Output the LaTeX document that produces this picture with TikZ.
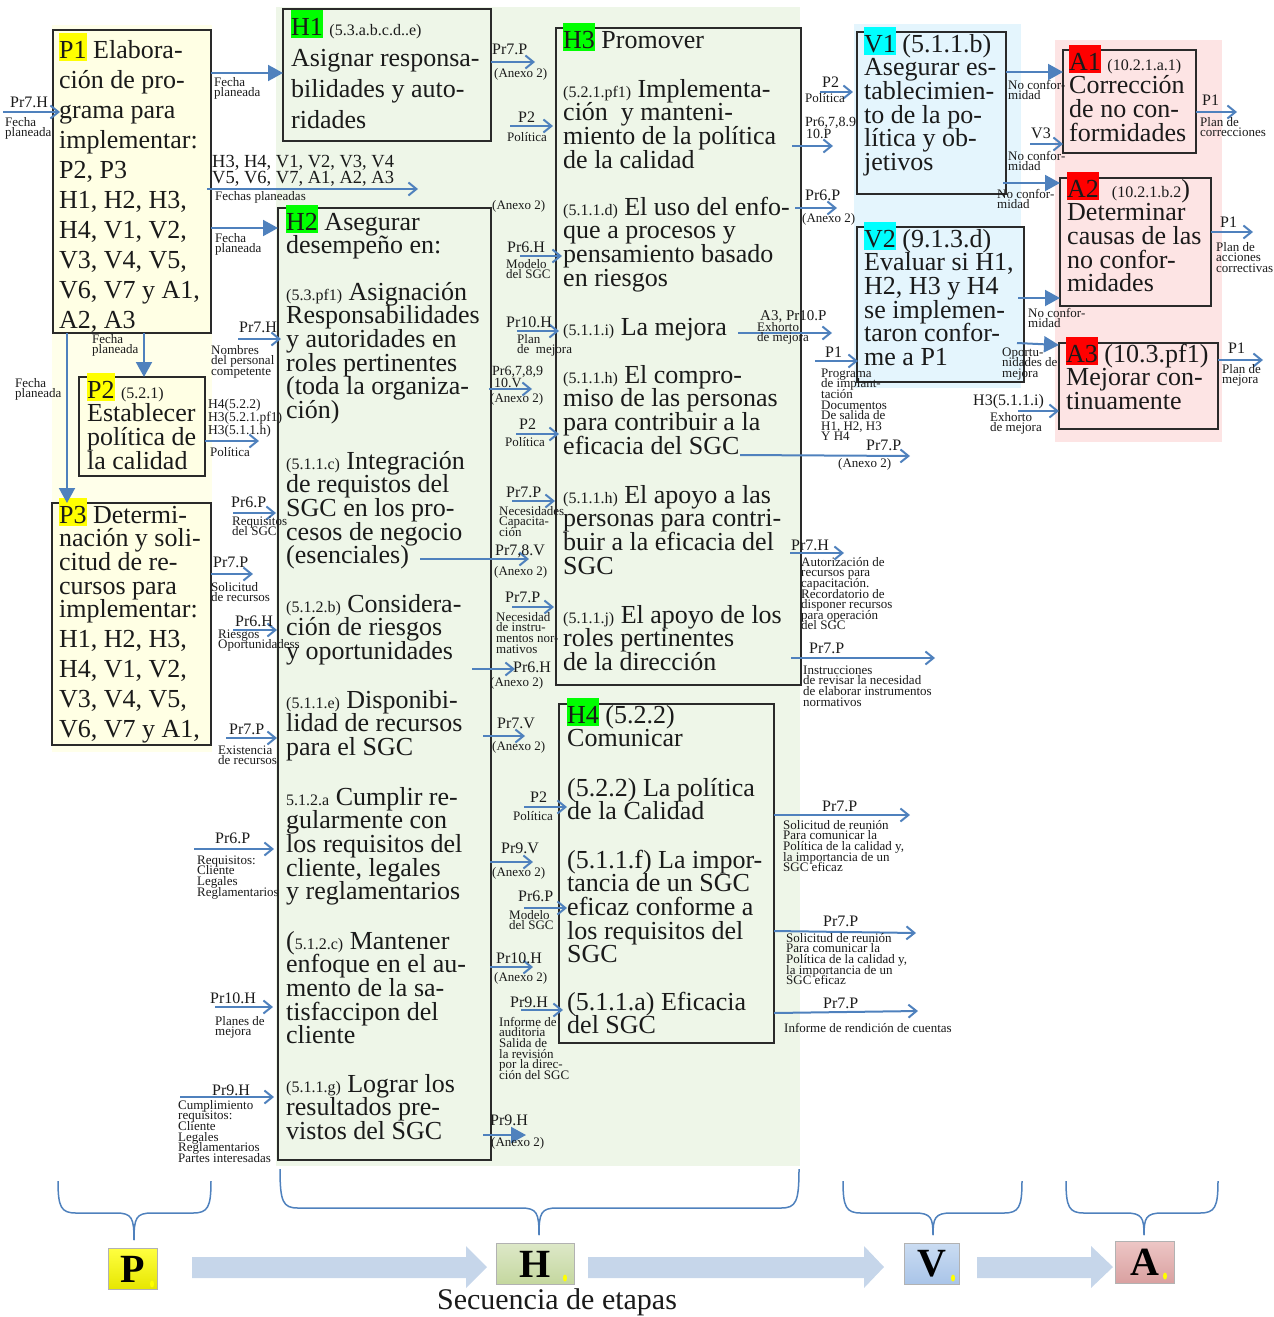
\documentclass[tikz,border=0pt]{standalone}
\usepackage{fontspec}
\setmainfont{Liberation Serif}
\usetikzlibrary{arrows.meta}
\definecolor{arrb}{HTML}{4F81BD}
\definecolor{bord}{HTML}{2A2A2A}
\definecolor{txt}{HTML}{1A1A1A}
\definecolor{pbg}{HTML}{FFFFEA}
\definecolor{pfill}{HTML}{FFFFE4}
\definecolor{hbg}{HTML}{EEF6E8}
\definecolor{vbg}{HTML}{E4F5FD}
\definecolor{abg}{HTML}{FDE4E4}
\definecolor{hlP}{HTML}{FFFF00}
\definecolor{hlH}{HTML}{00FF00}
\definecolor{hlV}{HTML}{00FFFF}
\definecolor{hlA}{HTML}{FF0000}
\definecolor{blk}{HTML}{C6D6EA}
\definecolor{sqPt}{HTML}{FFFF40}
\definecolor{sqPb}{HTML}{E6E600}
\definecolor{sqHt}{HTML}{DDE8C8}
\definecolor{sqHb}{HTML}{C4D79E}
\definecolor{sqVt}{HTML}{CADCF2}
\definecolor{sqVb}{HTML}{A9C4E8}
\definecolor{sqAt}{HTML}{EDC6C5}
\definecolor{sqAb}{HTML}{D9A0A0}
\lineskiplimit=-100pt
\lineskip=0pt
\newcommand\hlt[2]{{\fboxsep=0pt\colorbox{#1}{\rule[-3pt]{0pt}{28pt}#2}}}
\newcommand\bst{\rule{0pt}{26pt}}
\newcommand\rf[1]{{\fontsize{16}{16}\selectfont #1}}
\newcount\labno
\newcommand\slab[3]{\global\advance\labno by 1\relax\node[slabel] (s\the\labno) at (#1,#2-5) {\rule{0pt}{9pt}#3};}
\newcommand\clab[3]{\global\advance\labno by 1\relax\node[clabel] (c\the\labno) at (#1,#2) {#3};}
\newcommand\tlab[3]{\global\advance\labno by 1\relax\node[clabel,font=\fontsize{14}{12}\selectfont] (t\the\labno) at (#1,#2) {#3};}
\newcommand\oar[4]{\draw[oarr] (#1,#2) -- (#3,#4);}
\newcommand\far[4]{\draw[farr] (#1,#2) -- (#3,#4);}
\newcommand\drawbrc[6]{%
\draw[brc] (#1,#4) .. controls (#1,#5-6) and (#1+3,#5) .. (#1+18,#5) -- (#3-18,#5) .. controls (#3-2,#5) and (#3,#5+5) .. (#3,#6);
\draw[brc] (#3,#6) .. controls (#3,#5+5) and (#3+2,#5) .. (#3+18,#5) -- (#2-18,#5) .. controls (#2-3,#5) and (#2,#5-6) .. (#2,#4);}
\begin{document}
\begin{tikzpicture}[x=1pt,y=-1pt,
  every node/.style={text=txt},
  slabel/.style={anchor=north west, inner sep=0pt, align=left, font=\fontsize{13}{10.6}\selectfont},
  clabel/.style={anchor=base west, inner sep=0pt, font=\fontsize{16}{14}\selectfont},
  btxt/.style={anchor=north west, inner sep=0pt, align=left, font=\fontsize{26}{23.6}\selectfont},
  bx/.style={anchor=north west, inner sep=0pt, outer sep=0pt, line width=1.5pt, draw=bord},
  oarr/.style={draw=arrb, line width=2pt, -{Straight Barb[length=8pt,width=13pt]}},
  farr/.style={draw=arrb, line width=2pt, -{Triangle[length=15pt,width=16pt]}},
  brc/.style={draw=arrb, line width=1.5pt},
  sq/.style={anchor=north west, inner sep=0pt, draw=black!30, line width=0.8pt, font=\fontsize{40}{40}\selectfont\bfseries, text=black}
]
\useasboundingbox (0,0) rectangle (1274,1317);
% backgrounds
\fill[pbg] (52,25) rectangle (212,752);
\fill[hbg] (276,7) rectangle (800,1166);
\fill[vbg] (854,24) rectangle (1021,388);
\fill[abg] (1055,40) rectangle (1222,442);
% boxes
\node[bx, fill=pfill, minimum width=158, minimum height=303] (P1) at (53,30) {};
\node[bx, fill=pfill, minimum width=126, minimum height=99] (P2) at (79,377) {};
\node[bx, fill=pfill, minimum width=159, minimum height=242] (P3) at (52,503) {};
\node[bx, fill=hbg, minimum width=208, minimum height=132] (H1) at (283,9) {};
\node[bx, fill=hbg, minimum width=213, minimum height=952] (H2) at (278,208) {};
\node[bx, fill=hbg, minimum width=245, minimum height=657] (H3) at (556,28) {};
\node[bx, fill=hbg, minimum width=215, minimum height=339] (H4) at (559,704) {};
\node[bx, fill=vbg, minimum width=149, minimum height=162] (V1) at (857,32) {};
\node[bx, fill=vbg, minimum width=167, minimum height=155] (V2) at (857,227) {};
\node[bx, fill=abg, minimum width=133, minimum height=103] (A1) at (1063,50) {};
\node[bx, fill=abg, minimum width=151, minimum height=128] (A2) at (1060,178) {};
\node[bx, fill=abg, minimum width=159, minimum height=86] (A3) at (1059,343) {};
% box texts
\node[btxt, font=\fontsize{26}{30}\selectfont] (p1t) at (59,32) {\bst\hlt{hlP}{P1} Elabora-\\ción de pro-\\grama para\\implementar:\\P2, P3\\H1, H2, H3,\\H4, V1, V2,\\V3, V4, V5,\\V6, V7 y A1,\\A2, A3};
\node[btxt] (p2t) at (87,372) {\bst\hlt{hlP}{P2} \rf{(5.2.1)}\\Establecer\\política de\\la calidad};
\node[btxt] (p3t) at (59,497) {\bst\hlt{hlP}{P3} Determi-\\nación y soli-\\citud de re-\\cursos para\\implementar:\\[6.4pt]H1, H2, H3,\\[6.4pt]H4, V1, V2,\\[6.4pt]V3, V4, V5,\\[6.4pt]V6, V7 y A1,};
\node[btxt, font=\fontsize{26}{31}\selectfont] (h1t) at (291,9) {\bst\hlt{hlH}{H1} \rf{(5.3.a.b.c.d..e)}\\Asignar responsa-\\bilidades y auto-\\ridades};
\node[btxt] (h2a) at (286,204) {\bst\hlt{hlH}{H2} Asegurar\\desempeño en:};
\node[btxt] (h2b) at (286,274) {\bst\rf{(5.3.pf1)} Asignación\\Responsabilidades\\y autoridades en\\roles pertinentes\\(toda la organiza-\\ción)};
\node[btxt] (h2c) at (286,443) {\bst\rf{(5.1.1.c)} Integración\\de requistos del\\SGC en los pro-\\cesos de negocio\\(esenciales)};
\node[btxt] (h2d) at (286,586) {\bst\rf{(5.1.2.b)} Considera-\\ción de riesgos\\y oportunidades};
\node[btxt] (h2e) at (286,682) {\bst\rf{(5.1.1.e)} Disponibi-\\lidad de recursos\\para el SGC};
\node[btxt] (h2f) at (286,779) {\bst\rf{5.1.2.a} Cumplir re-\\gularmente con\\los requisitos del\\cliente, legales\\y reglamentarios};
\node[btxt] (h2g) at (286,923) {\bst(\rf{5.1.2.c)} Mantener\\enfoque en el au-\\mento de la sa-\\tisfaccipon del\\cliente};
\node[btxt] (h2h) at (286,1066) {\bst\rf{(5.1.1.g)} Lograr los\\resultados pre-\\vistos del SGC};
\node[btxt] (h3a) at (563,22) {\bst\hlt{hlH}{H3} Promover};
\node[btxt] (h3b) at (563,71) {\bst\rf{(5.2.1.pf1)} Implementa-\\ción\ \ y manteni-\\miento de la política\\de la calidad};
\node[btxt] (h3c) at (563,189) {\bst\rf{(5.1.1.d)} El uso del enfo-\\que a procesos y\\pensamiento basado\\en riesgos};
\node[btxt] (h3d) at (563,309) {\bst\rf{(5.1.1.i)} La mejora};
\node[btxt] (h3e) at (563,357) {\bst\rf{(5.1.1.h)} El compro-\\miso de las personas\\para contribuir a la\\eficacia del SGC};
\node[btxt] (h3f) at (563,477) {\bst\rf{(5.1.1.h)} El apoyo a las\\personas para contri-\\buir a la eficacia del\\SGC};
\node[btxt] (h3g) at (563,597) {\bst\rf{(5.1.1.j)} El apoyo de los\\roles pertinentes\\de la dirección};
\node[btxt] (h4a) at (567,697) {\bst\hlt{hlH}{H4} (5.2.2)\\Comunicar};
\node[btxt] (h4b) at (567,770) {\bst(5.2.2) La política\\de la Calidad};
\node[btxt] (h4c) at (567,842) {\bst(5.1.1.f) La impor-\\tancia de un SGC\\eficaz conforme a\\los requisitos del\\SGC};
\node[btxt] (h4d) at (567,984) {\bst(5.1.1.a) Eficacia\\del SGC};
\node[btxt] (v1t) at (864,26) {\bst\hlt{hlV}{V1} (5.1.1.b)\\Asegurar es-\\tablecimien-\\to de la po-\\lítica y ob-\\jetivos};
\node[btxt] (v2t) at (864,221) {\bst\hlt{hlV}{V2} (9.1.3.d)\\Evaluar si H1,\\H2, H3 y H4\\se implemen-\\taron confor-\\me a P1};
\node[btxt] (a1t) at (1069,44) {\bst\hlt{hlA}{A1} \rf{(10.2.1.a.1)}\\Corrección\\de no con-\\formidades};
\node[btxt] (a2t) at (1067,171) {\bst\hlt{hlA}{A2}\ \ \rf{(10.2.1.b.2}) \\Determinar\\causas de las\\no confor-\\midades};
\node[btxt] (a3t) at (1066,336) {\bst\hlt{hlA}{A3} (10.3.pf1)\\Mejorar con-\\tinuamente};
% ---- connectors and labels ----
% left of P1
\oar{3}{112}{60}{112}
\clab{10}{107}{Pr7.H}
\slab{5}{122}{Fecha\\planeada}
% P1 -> H1
\draw[farr] (P1.east |- 0,73) -- (H1.west |- 0,73);
\slab{214}{82}{Fecha\\planeada}
% fechas planeadas
\oar{207}{189}{418}{189}
\node[clabel, font=\fontsize{18.5}{16}\selectfont] (hx1) at (212,167) {H3, H4, V1, V2, V3, V4};
\node[clabel, font=\fontsize{18.5}{16}\selectfont] (hx2) at (212,183) {V5, V6, V7, A1, A2, A3};
\slab{215}{196}{Fechas planeadas}
% P1 -> H2
\draw[farr] (P1.east |- 0,228) -- (H2.west |- 0,228);
\slab{215}{238}{Fecha\\planeada}
% P1 -> P2, P3
\draw[farr] (P1.south -| 144,0) -- (P2.north -| 144,0);
\slab{92}{339}{Fecha\\planeada}
\draw[farr] (P1.south -| 67,0) -- (P3.north -| 67,0);
\slab{15}{383}{Fecha\\planeada}
% inputs to H2
\oar{238}{339}{281}{339}
\clab{239}{332}{Pr7.H}
\slab{211}{350}{Nombres\\del personal\\competente}
\draw[oarr] (P2.east |- 0,441) -- (259,441);
\node[clabel, font=\fontsize{13.5}{12}\selectfont] (pp1) at (208,408) {H4(5.2.2)};
\node[clabel, font=\fontsize{13.5}{12}\selectfont] (pp2) at (208,421) {H3(5.2.1.pf1)};
\node[clabel, font=\fontsize{13.5}{12}\selectfont] (pp3) at (208,434) {H3(5.1.1.h)};
\slab{210}{452}{Política}
\oar{233}{513}{276}{513}
\clab{231}{507}{Pr6.P}
\slab{232}{521}{Requisitos\\del SGC}
\draw[oarr] (P3.east |- 0,574) -- (253,574);
\clab{213}{567}{Pr7.P}
\slab{211}{587}{Solicitud\\de recursos}
\oar{233}{630}{277}{630}
\clab{235}{626}{Pr6.H}
\slab{218}{634}{Riesgos\\Oportunidadess}
\oar{226}{738}{277}{738}
\clab{229}{734}{Pr7.P}
\slab{218}{750}{Existencia\\de recursos}
\oar{194}{849}{274}{849}
\clab{215}{843}{Pr6.P}
\slab{197}{860}{Requisitos:\\Cliente\\Legales\\Reglamentarios}
\oar{215}{1007}{273}{1007}
\clab{210}{1003}{Pr10.H}
\slab{215}{1021}{Planes de\\mejora}
\oar{180}{1097}{274}{1097}
\clab{212}{1095}{Pr9.H}
\slab{178}{1105}{Cumplimiento\\requisitos:\\Cliente\\Legales\\Reglamentarios\\Partes interesadas}
% between H2 and H3/H4
\draw[oarr] (H1.east |- 0,62) -- (535,62);
\clab{492}{54}{Pr7.P}
\slab{494}{73}{(Anexo 2)}
\oar{510}{126}{553}{126}
\clab{518}{122}{P2}
\slab{507}{137}{Política}
\slab{492}{205}{(Anexo 2)}
\oar{520}{256}{562}{256}
\clab{507}{252}{Pr6.H}
\slab{506}{264}{Modelo\\del SGC}
\oar{517}{331}{559}{331}
\clab{506}{327}{Pr10.H}
\slab{517}{339}{Plan\\de\ \ mejora}
\oar{489}{389}{532}{389}
\tlab{492}{375}{Pr6,7,8,9}
\tlab{494}{387}{10.V}
\slab{490}{398}{(Anexo 2)}
\oar{516}{434}{559}{434}
\clab{519}{429}{P2}
\slab{505}{442}{Política}
\oar{512}{501}{555}{501}
\clab{506}{497}{Pr7.P}
\slab{499}{511}{Necesidades\\Capacita-\\ción}
\oar{420}{559}{529}{559}
\clab{495}{555}{Pr7,8.V}
\slab{494}{571}{(Anexo 2)}
\oar{512}{607}{554}{607}
\clab{505}{602}{Pr7.P}
\slab{496}{617}{Necesidad\\de instru-\\mentos nor-\\mativos}
\oar{472}{669}{515}{669}
\clab{513}{672}{Pr6.H}
\slab{490}{682}{(Anexo 2)}
\oar{483}{736}{525}{736}
\clab{497}{728}{Pr7.V}
\slab{492}{746}{(Anexo 2)}
\oar{524}{807}{567}{807}
\clab{530}{802}{P2}
\slab{513}{816}{Política}
\oar{490}{862}{533}{862}
\clab{501}{853}{Pr9.V}
\slab{492}{872}{(Anexo 2)}
\oar{524}{908}{567}{908}
\clab{518}{901}{Pr6.P}
\slab{509}{915}{Modelo\\del SGC}
\oar{490}{967}{533}{967}
\clab{496}{963}{Pr10.H}
\slab{494}{977}{(Anexo 2)}
\oar{521}{1010}{563}{1010}
\clab{510}{1007}{Pr9.H}
\slab{499}{1022}{Informe de\\auditoria\\Salida de\\la revisión\\por la direc-\\ción del SGC}
\far{483}{1135}{526}{1135}
\clab{490}{1125}{Pr9.H}
\slab{491}{1142}{(Anexo 2)}
% right of H3
\oar{820}{92}{853}{92}
\clab{822}{87}{P2}
\slab{805}{98}{Política}
\oar{792}{146}{833}{146}
\tlab{805}{126}{Pr6,7,8.9}
\tlab{806}{138}{10.P}
\oar{795}{208}{837}{208}
\clab{805}{200}{Pr6.P}
\slab{802}{218}{(Anexo 2)}
\oar{738}{333}{832}{333}
\node[clabel, font=\fontsize{15}{14}\selectfont] (a3p) at (760,320) {A3, Pr10.P};
\slab{757}{327}{Exhorto\\de mejora}
\oar{815}{361}{858}{361}
\clab{825}{357}{P1}
\slab{821}{373}{Programa\\de implant-\\tación\\Documentos\\De salida de\\H1, H2, H3\\Y H4}
\oar{740}{455}{910}{456}
\clab{866}{450}{Pr7.P}
\slab{838}{463}{(Anexo 2)}
\oar{790}{553}{844}{553}
\clab{791}{550}{Pr7.H}
\slab{801}{562}{Autorización de\\recursos para\\capacitación.\\Recordatorio de\\disponer recursos\\para operación\\del SGC}
\oar{791}{658}{935}{658}
\clab{809}{653}{Pr7.P}
\slab{803}{670}{Instrucciones\\de revisar la necesidad\\de elaborar instrumentos\\normativos}
% right of H4
\draw[oarr] (H4.east |- 0,815) -- (910,815);
\clab{822}{811}{Pr7.P}
\slab{783}{825}{Solicitud de reunión\\Para comunicar la\\Política de la calidad y,\\la importancia de un\\SGC eficaz}
\draw[oarr] (H4.east |- 0,931) -- (916,933);
\clab{823}{926}{Pr7.P}
\slab{786}{938}{Solicitud de reunión\\Para comunicar la\\Política de la calidad y,\\la importancia de un\\SGC eficaz}
\draw[oarr] (H4.east |- 0,1013) -- (918,1011);
\clab{823}{1008}{Pr7.P}
\slab{784}{1028}{Informe de rendición de cuentas}
% V -> A
\draw[farr] (V1.east |- 0,72) -- (A1.west |- 0,72);
\slab{1008}{85}{No confor-\\midad}
\draw[oarr] (1030,144) -- (A1.west |- 0,144);
\clab{1031}{138}{V3}
\slab{1008}{156}{No confor-\\midad}
\draw[farr] (1003,183) -- (A2.west |- 0,183);
\slab{997}{194}{No confor-\\midad}
\draw[farr] (1018,298) -- (A2.west |- 0,298);
\slab{1028}{313}{No confor-\\midad}
\draw[farr] (1017,343) -- (A3.west |- 0,345);
\slab{1002}{352}{Oportu-\\nidades de\\mejora}
\draw[oarr] (1018,411) -- (A3.west |- 0,411);
\clab{973}{405}{H3(5.1.1.i)}
\slab{990}{417}{Exhorto\\de mejora}
\draw[oarr] (A1.east |- 0,112) -- (1237,112);
\clab{1202}{105}{P1}
\slab{1200}{122}{Plan de\\correcciones}
\draw[oarr] (A2.east |- 0,232) -- (1253,232);
\clab{1220}{227}{P1}
\slab{1216}{247}{Plan de\\acciones\\correctivas}
\draw[oarr] (A3.east |- 0,360) -- (1263,360);
\clab{1228}{353}{P1}
\slab{1222}{369}{Plan de\\mejora}
% ---- bottom sequence ----
\drawbrc{58}{211}{134}{1181}{1213}{1240}
\drawbrc{280}{799}{539}{1169}{1208}{1235}
\drawbrc{843}{1022}{933}{1181}{1213}{1235}
\drawbrc{1066}{1218}{1144}{1181}{1213}{1235}
\fill[blk] (192,1257) -- (466,1257) -- (466,1246) -- (487,1267) -- (466,1288) -- (466,1278) -- (192,1278) -- cycle;
\fill[blk] (588,1257) -- (864,1257) -- (864,1246) -- (884,1267) -- (864,1288) -- (864,1278) -- (588,1278) -- cycle;
\fill[blk] (977,1257) -- (1091,1257) -- (1091,1246) -- (1113,1267) -- (1091,1288) -- (1091,1278) -- (977,1278) -- cycle;
\node[sq, top color=sqPt, bottom color=sqPb, minimum width=49, minimum height=41] (Psq) at (108,1248) {P};
\node[sq, top color=sqHt, bottom color=sqHb, minimum width=78, minimum height=41] (Hsq) at (496,1243) {H};
\node[sq, top color=sqVt, bottom color=sqVb, minimum width=55, minimum height=41] (Vsq) at (904,1243) {V};
\node[sq, top color=sqAt, bottom color=sqAb, minimum width=59, minimum height=42] (Asq) at (1115,1241) {A};
\fill[hlP] (152,1284) ellipse (2 and 3.5);
\fill[hlP] (565,1278) ellipse (2 and 3.5);
\fill[hlP] (953,1278) ellipse (2 and 3.5);
\fill[hlP] (1165,1276) ellipse (2 and 3.5);
\node[font=\fontsize{30}{30}\selectfont] (seq) at (557,1302) {Secuencia de etapas};
\end{tikzpicture}
\end{document}
